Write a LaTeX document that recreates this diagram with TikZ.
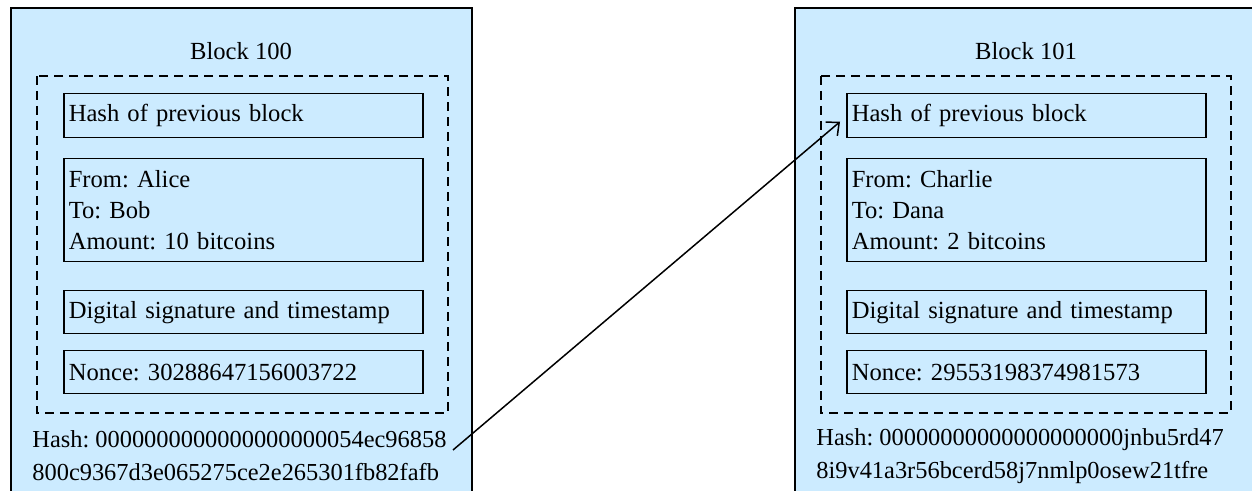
\documentclass[tikz,border=0pt]{standalone}
\usepackage{fontspec}
\setmainfont{Liberation Serif}
\usetikzlibrary{arrows.meta}
\definecolor{blockfill}{RGB}{204,235,255}
\frenchspacing
\begin{document}
\begin{tikzpicture}[x=0.5pt,y=-0.5pt,
  every node/.style={font=\fontsize{12.3}{15.5}\selectfont},
  outerblock/.style={draw,line width=0.75pt,fill=blockfill},
  txgroup/.style={draw,line width=0.75pt,dash pattern=on 4.5pt off 3pt},
  field/.style={draw,line width=0.75pt,rectangle,anchor=north west,
    inner xsep=2.5pt,inner ysep=0pt,text width=174.5pt,align=left},
  title/.style={anchor=center},
  hashtext/.style={anchor=west,align=left,inner sep=0pt,
    font=\fontsize{12.2}{16.5}\selectfont},
  link/.style={line width=0.75pt,-{Straight Barb[length=5pt,width=9pt]}}
]
\useasboundingbox (0,0) rectangle (1252,491);
\clip (0,0) rectangle (1252,491);

% outer block frames (they run past the lower and right edges)
\path[outerblock] (11,520) -- (11,8) -- (472,8) -- (472,520);
\path[outerblock] (795,520) -- (795,8) -- (1280,8) -- (1280,520);

% ---------- Block 100 ----------
\node[title] (t100) at (241,51) {Block 100};
\draw[txgroup] (37,76) rectangle (448,413);
\node[field,minimum height=22pt] (a1) at (63,93) {Hash of previous block};
\node[field,minimum height=51.5pt] (a2) at (63,158) {From: Alice\\To: Bob\\Amount: 10 bitcoins};
\node[field,minimum height=21.5pt] (a3) at (63,290) {Digital signature and timestamp};
\node[field,minimum height=21.5pt] (a4) at (63,350) {Nonce: 30288647156003722};
\node[hashtext] (ah) at (32,456) {Hash: 0000000000000000000054ec96858\\800c9367d3e065275ce2e265301fb82fafb};

% ---------- Block 101 ----------
\node[title] (t101) at (1026,51) {Block 101};
\draw[txgroup] (821,76) rectangle (1231,413);
\node[field,minimum height=22pt] (b1) at (846,93) {Hash of previous block};
\node[field,minimum height=51.5pt] (b2) at (846,158) {From: Charlie\\To: Dana\\Amount: 2 bitcoins};
\node[field,minimum height=21.5pt] (b3) at (846,290) {Digital signature and timestamp};
\node[field,minimum height=21.5pt] (b4) at (846,350) {Nonce: 29553198374981573};
\node[hashtext] (bh) at (816,456) {Hash: 00000000000000000000jnbu5rd47\\8i9v41a3r56bcerd58j7nmlp0osew21tfre};

% chain link: hash of block 100 feeds block 101
\coordinate (tail) at (453,450);
\draw[link] (tail) -- ([xshift=-3pt,yshift=-3pt]b1.west);
\end{tikzpicture}
\end{document}
